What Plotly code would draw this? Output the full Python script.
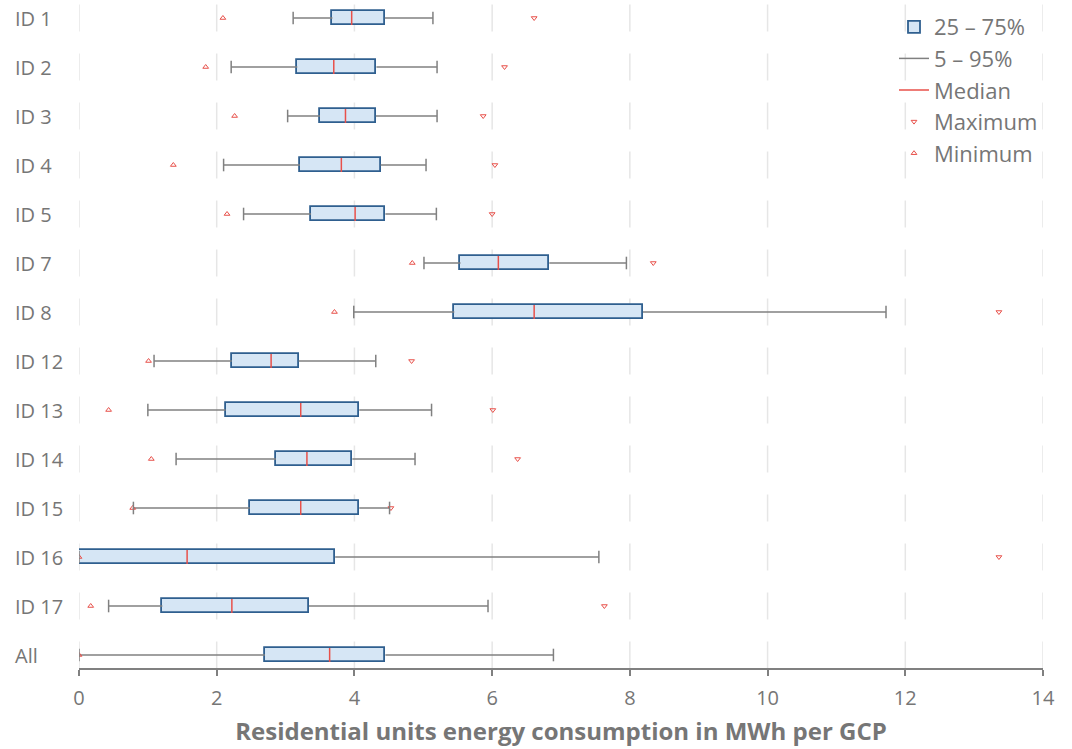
import plotly.graph_objects as go

categories = ["ID 1", "ID 2", "ID 3", "ID 4", "ID 5", "ID 7", "ID 8", "ID 12",
              "ID 13", "ID 14", "ID 15", "ID 16", "ID 17", "All"]
p05 = [3.11, 2.21, 3.03, 2.10, 2.39, 5.01, 3.99, 1.09, 1.00, 1.41, 0.79, 0.00, 0.43, 0.00]
q1 = [3.68, 3.17, 3.50, 3.21, 3.37, 5.54, 5.45, 2.22, 2.13, 2.86, 2.48, 0.00, 1.21, 2.70]
median = [3.96, 3.70, 3.87, 3.81, 4.01, 6.09, 6.61, 2.79, 3.22, 3.31, 3.22, 1.57, 2.22, 3.64]
q3 = [4.44, 4.32, 4.31, 4.38, 4.45, 6.83, 8.19, 3.19, 4.07, 3.97, 4.07, 3.72, 3.34, 4.45]
p95 = [5.14, 5.20, 5.20, 5.04, 5.19, 7.95, 11.72, 4.31, 5.12, 4.88, 4.51, 7.55, 5.94, 6.89]
minimum = [2.09, 1.84, 2.26, 1.37, 2.15, 4.84, 3.71, 1.01, 0.43, 1.05, 0.78, 0.00, 0.17, 0.00]
maximum = [6.61, 6.18, 5.87, 6.04, 6.00, 8.34, 13.36, 4.83, 6.01, 6.37, 4.53, 13.36, 7.63, None]
x_ticks = [0, 2, 4, 6, 8, 10, 12, 14]

GRAY = "#767676"
BOX_FILL = "#d6e6f5"
BOX_LINE = "#2f5f8f"
WHISK = "#808080"
RED = "#e8504a"

n = len(categories)
ypos = list(range(n))
half = 7 / 49.0

fig = go.Figure()

fig.add_trace(go.Bar(
    name="25 – 75%", orientation="h", y=ypos,
    x=[b - a for a, b in zip(q1, q3)], base=q1, width=2 * half,
    marker=dict(color=BOX_FILL, line=dict(color=BOX_LINE, width=1.8)),
    hoverinfo="skip"))

wx, wy = [], []
for i in range(n):
    wx += [p05[i], q1[i], None, q3[i], p95[i], None]
    wy += [i, i, None, i, i, None]
fig.add_trace(go.Scatter(name="5 – 95%", x=wx, y=wy, mode="lines",
                         line=dict(color=WHISK, width=1.5), hoverinfo="skip"))

mx, my = [], []
for i in range(n):
    mx += [median[i], median[i], None]
    my += [i - half, i + half, None]
fig.add_trace(go.Scatter(name="Median", x=mx, y=my, mode="lines",
                         line=dict(color=RED, width=1.5), hoverinfo="skip"))

fig.add_trace(go.Scatter(name="Maximum", x=maximum, y=ypos, mode="markers",
                         marker=dict(symbol="triangle-down-open", size=5,
                                     color=RED, line=dict(width=1, color=RED)),
                         hoverinfo="skip"))
fig.add_trace(go.Scatter(name="Minimum", x=minimum, y=ypos, mode="markers",
                         marker=dict(symbol="triangle-up-open", size=5,
                                     color=RED, line=dict(width=1, color=RED)),
                         hoverinfo="skip"))

# whisker caps
fig.add_trace(go.Scatter(x=p05 + p95, y=ypos + ypos, mode="markers", showlegend=False,
                         marker=dict(symbol="line-ns-open", size=9, color=WHISK,
                                     line=dict(color=WHISK, width=1.5)),
                         hoverinfo="skip"))

# segmented vertical grid lines
g = 13.5 / 49.0
for i in range(n):
    for t in x_ticks:
        fig.add_shape(type="line", x0=t, x1=t, y0=i - g, y1=i + g,
                      xref="x", yref="y", layer="below",
                      line=dict(color="#e6e6e6", width=1.5))

# left-aligned category labels
for i, c in enumerate(categories):
    fig.add_annotation(text=c, x=-(79 - 13) / 964.0, xref="paper", y=i, yref="y",
                       xanchor="left", yanchor="middle", showarrow=False,
                       font=dict(family="Open Sans", size=20, color=GRAY))

fig.update_layout(
    width=1072, height=749,
    margin=dict(l=79, r=29, t=0, b=81),
    plot_bgcolor="white", paper_bgcolor="white",
    font=dict(family="Open Sans", color=GRAY),
    showlegend=True,
    legend=dict(x=1.0, xanchor="right", y=1.0 - 6 / 668.0, yanchor="top",
                bgcolor="rgba(0,0,0,0)", font=dict(size=22, color=GRAY),
                itemwidth=30, tracegroupgap=0),
    xaxis=dict(range=[0, 14], tickvals=x_ticks, showgrid=False, zeroline=False,
               showline=True, linecolor="#808080", linewidth=1.5,
               ticks="outside", ticklen=6, tickcolor="#808080", tickwidth=1.5,
               tickfont=dict(size=20, color=GRAY), ticklabelstandoff=5,
               title=dict(text="<b>Residential units energy consumption in MWh per GCP</b>",
                          font=dict(family="Open Sans", size=24, color=GRAY), standoff=13)),
    yaxis=dict(range=[n - 1 + 13 / 49.0, -18 / 49.0], showticklabels=False,
               showgrid=False, zeroline=False, showline=False, ticks=""),
    bargap=0,
)

fig.write_html("out.html")
